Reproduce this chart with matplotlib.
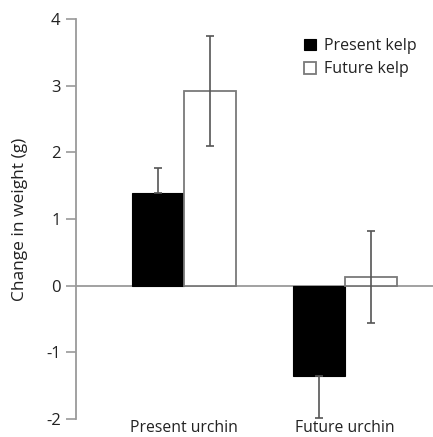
import matplotlib.pyplot as plt
import numpy as np

plt.rcParams['font.family'] = ['Open Sans', 'DejaVu Sans']
plt.rcParams['axes.unicode_minus'] = False
plt.rcParams['text.color'] = '#222222'
plt.rcParams['axes.labelcolor'] = '#222222'
plt.rcParams['xtick.labelcolor'] = '#222222'
plt.rcParams['ytick.labelcolor'] = '#222222'

groups = ["Present urchin", "Future urchin"]
series = ["Present kelp", "Future kelp"]
present_kelp = [1.39, -1.36]
present_kelp_err = [0.38, 0.62]
future_kelp = [2.92, 0.13]
future_kelp_err = [0.83, 0.69]

grey = "#9a9a9a"
bar_edge = "#7a7a7a"
err_col = "#555555"
x = np.arange(len(groups))
width = 0.323

fig = plt.figure(figsize=(4.33, 4.37), dpi=100)
ax = fig.add_axes([0.1755, 0.041, 0.8245, 0.9155])

# black bars: only the outward half of the error bar shows
ax.bar(x - width / 2, present_kelp, width, color="black", edgecolor="black",
       linewidth=0.8, label=series[0], zorder=2)
lower = [0 if v > 0 else e for v, e in zip(present_kelp, present_kelp_err)]
upper = [e if v > 0 else 0 for v, e in zip(present_kelp, present_kelp_err)]
ax.errorbar(x - width / 2, present_kelp, yerr=[lower, upper], fmt="none",
            ecolor=err_col, elinewidth=1.2, capsize=3, capthick=1.2, zorder=3)

ax.bar(x + width / 2, future_kelp, width, color="white", edgecolor=bar_edge,
       linewidth=1.3, label=series[1], zorder=2)
ax.errorbar(x + width / 2, future_kelp, yerr=future_kelp_err, fmt="none",
            ecolor=err_col, elinewidth=1.2, capsize=3, capthick=1.2, zorder=3)

ax.axhline(0, color=grey, linewidth=1.3, zorder=1)

ax.set_xlim(-0.671, 1.547)
ax.set_ylim(-2, 4)
ax.set_yticks([-2, -1, 0, 1, 2, 3, 4])
ax.set_xticks(x)
ax.set_xticklabels(groups, fontsize=11.3)
ax.tick_params(axis="x", length=0, pad=1)
ax.tick_params(axis="y", length=7, width=1.2, color=grey, labelsize=12, pad=4)
ax.set_ylabel("Change in weight (g)", fontsize=12.5, labelpad=13)

for side in ["top", "right", "bottom"]:
    ax.spines[side].set_visible(False)
ax.spines["left"].set_color(grey)
ax.spines["left"].set_linewidth(1.3)

ax.legend(loc="upper left", bbox_to_anchor=(0.62, 0.968), frameon=False,
          fontsize=11.5, handlelength=0.75, handleheight=0.75, handletextpad=0.5,
          borderaxespad=0.0, labelspacing=0.45)

fig.savefig("out.png", dpi=100)
